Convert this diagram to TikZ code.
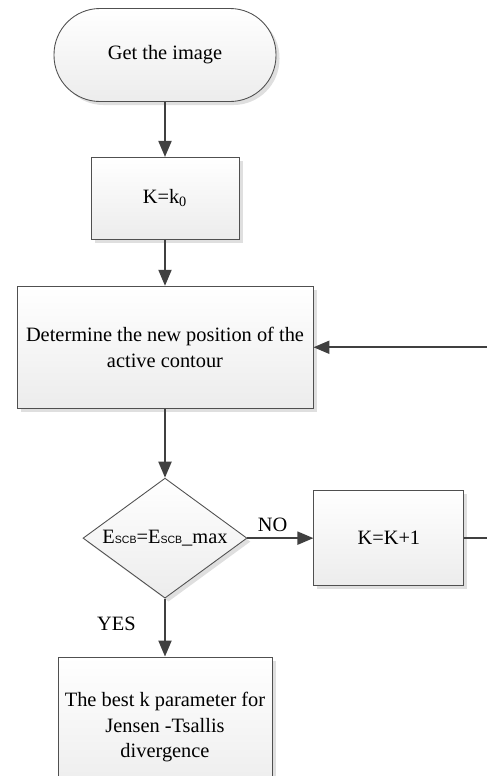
\documentclass[tikz,border=0pt]{standalone}
\usepackage{fontspec}
\setmainfont{Liberation Serif}
\newfontfamily\labelsans{Liberation Sans}
\usepackage{tikz}
\usetikzlibrary{arrows.meta, positioning, shapes.geometric, shadows}
\definecolor{LineGray}{RGB}{64,64,64}
\definecolor{EdgeGray}{RGB}{80,80,80}
\definecolor{FillTop}{RGB}{255,255,255}
\definecolor{FillBottom}{RGB}{236,236,236}
\definecolor{ShadowGray}{RGB}{215,215,215}
\newcommand{\scb}{{\labelsans\fontsize{6}{8}\selectfont SCB}}

\begin{document}
\begin{tikzpicture}[
  box/.style={rectangle, draw=EdgeGray, line width=0.5pt, align=center,
              top color=FillTop, bottom color=FillBottom,
              drop shadow={shadow xshift=0.07cm, shadow yshift=-0.07cm, fill=ShadowGray, opacity=0.8},
              font=\fontsize{11.6}{14.5}\selectfont, inner sep=2pt},
  arrow/.style={-{Triangle[length=0.32cm, width=0.26cm]}, draw=LineGray, line width=1.1pt}
]
\useasboundingbox (0,0) rectangle (9.74,-15.52);
\clip (0,0) rectangle (9.74,-15.52);

\node[box, rounded corners=0.92cm, minimum width=4.44cm, minimum height=1.86cm] (start) at (3.3,-1.1) {Get the image};
\node[box, minimum width=2.96cm, minimum height=1.64cm, below=1.1cm of start] (init) {K=k\textsubscript{0}};
\node[box, minimum width=5.92cm, minimum height=2.44cm, below=0.92cm of init] (update) {Determine the new position of the\\active contour};
\node[box, diamond, shape aspect=1.37, minimum width=3.28cm, minimum height=2.4cm, inner sep=0pt, below=1.38cm of update] (check)
  {E\scb=E\scb\_max};
\node[box, minimum width=3.0cm, minimum height=1.9cm, right=1.32cm of check] (incr) {K=K+1};
\node[box, minimum width=4.28cm, minimum height=2.8cm, below=1.16cm of check] (result) {The best k parameter for\\Jensen -Tsallis\\divergence};

\draw[arrow] (start) -- (init);
\draw[arrow] (init) -- (update);
\draw[arrow] (update) -- (check);
\draw[arrow] (check) -- node[above, pos=0.38, font=\fontsize{11.6}{14}\selectfont] {NO} (incr);
\draw[arrow] (check) -- node[left=0.45cm, pos=0.44, font=\fontsize{11.6}{14}\selectfont] {YES} (result);
\draw[arrow] (incr.east) -- ++(0.75,0) |- (update.east);
\end{tikzpicture}
\end{document}
